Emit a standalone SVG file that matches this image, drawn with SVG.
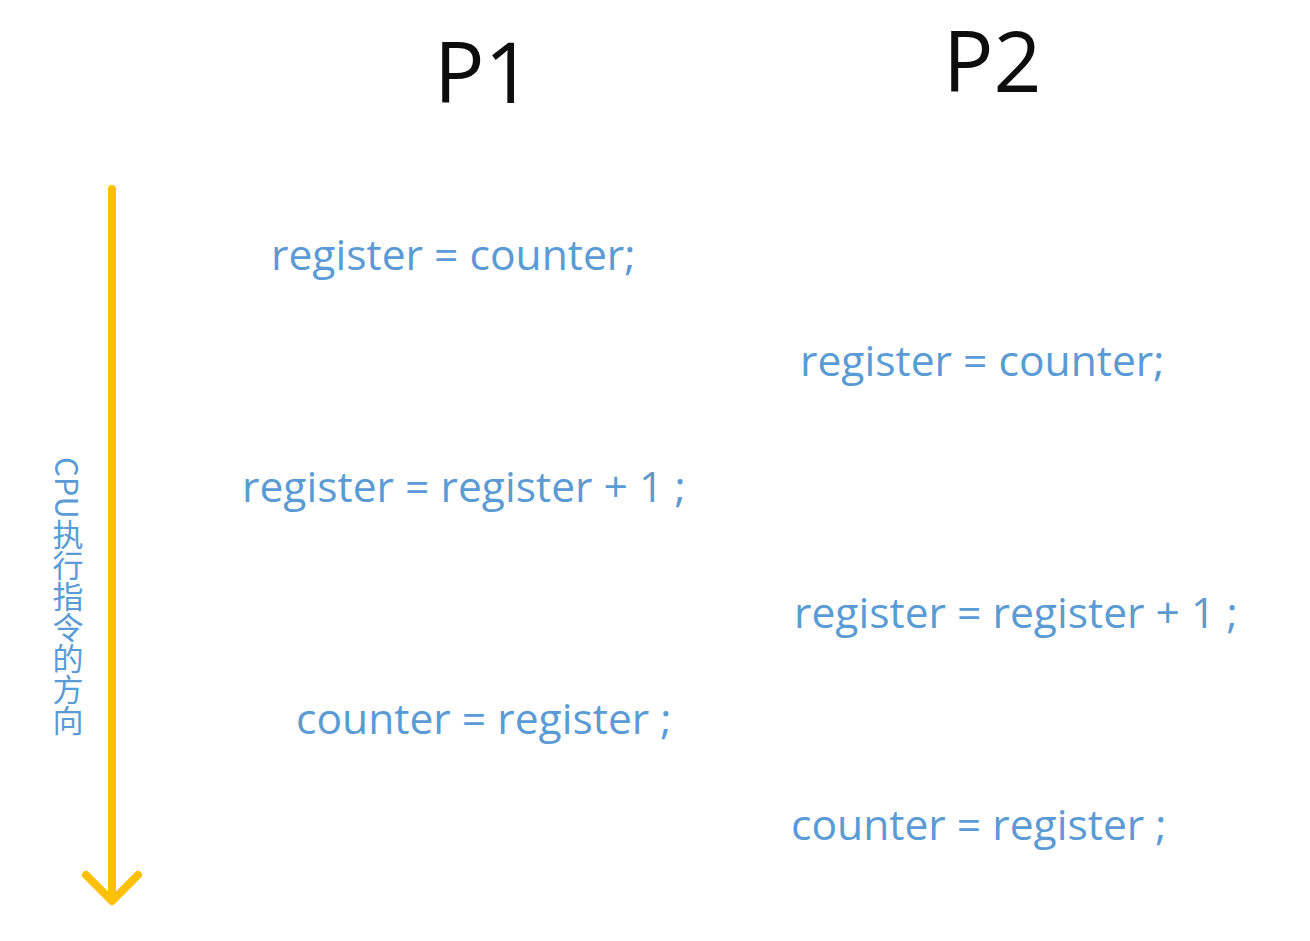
<svg xmlns="http://www.w3.org/2000/svg" width="1310" height="941" viewBox="0 0 1310 941">
<style>
.code{font-family:"Open Sans","Noto Sans",sans-serif;font-size:42.6px;fill:#5B9BD5}
.title{font-family:"Open Sans","Noto Sans",sans-serif;font-size:84px;fill:#0D0D0D}
.vert{font-family:"Noto Sans CJK SC",sans-serif;font-size:31px;fill:#5B9BD5;writing-mode:vertical-rl}
.arrow{fill:none;stroke:#FFC000;stroke-width:8;stroke-linecap:round;stroke-linejoin:round}
</style>
<rect width="1310" height="941" fill="#FFFFFF"/>
<g id="connectors">
<g id="cpu-arrow">
<line class="arrow" x1="112" y1="189" x2="112" y2="900"/>
<polyline class="arrow" points="86,875 112,901 138,875"/>
</g>
</g>
<g id="cpu-label"><text class="vert" x="68" y="457">CPU执行指令的方向</text></g>
<g id="p1-title"><text class="title" x="434" y="103">P1</text></g>
<g id="p2-title"><text class="title" x="943" y="92">P2</text></g>
<g id="p1-step1"><text class="code" x="271" y="270">register = counter;</text></g>
<g id="p2-step1"><text class="code" x="800" y="376">register = counter;</text></g>
<g id="p1-step2"><text class="code" x="242" y="502">register = register + 1 ;</text></g>
<g id="p2-step2"><text class="code" x="794" y="628">register = register + 1 ;</text></g>
<g id="p1-step3"><text class="code" x="296" y="734">counter = register ;</text></g>
<g id="p2-step3"><text class="code" x="791" y="840">counter = register ;</text></g>
</svg>
